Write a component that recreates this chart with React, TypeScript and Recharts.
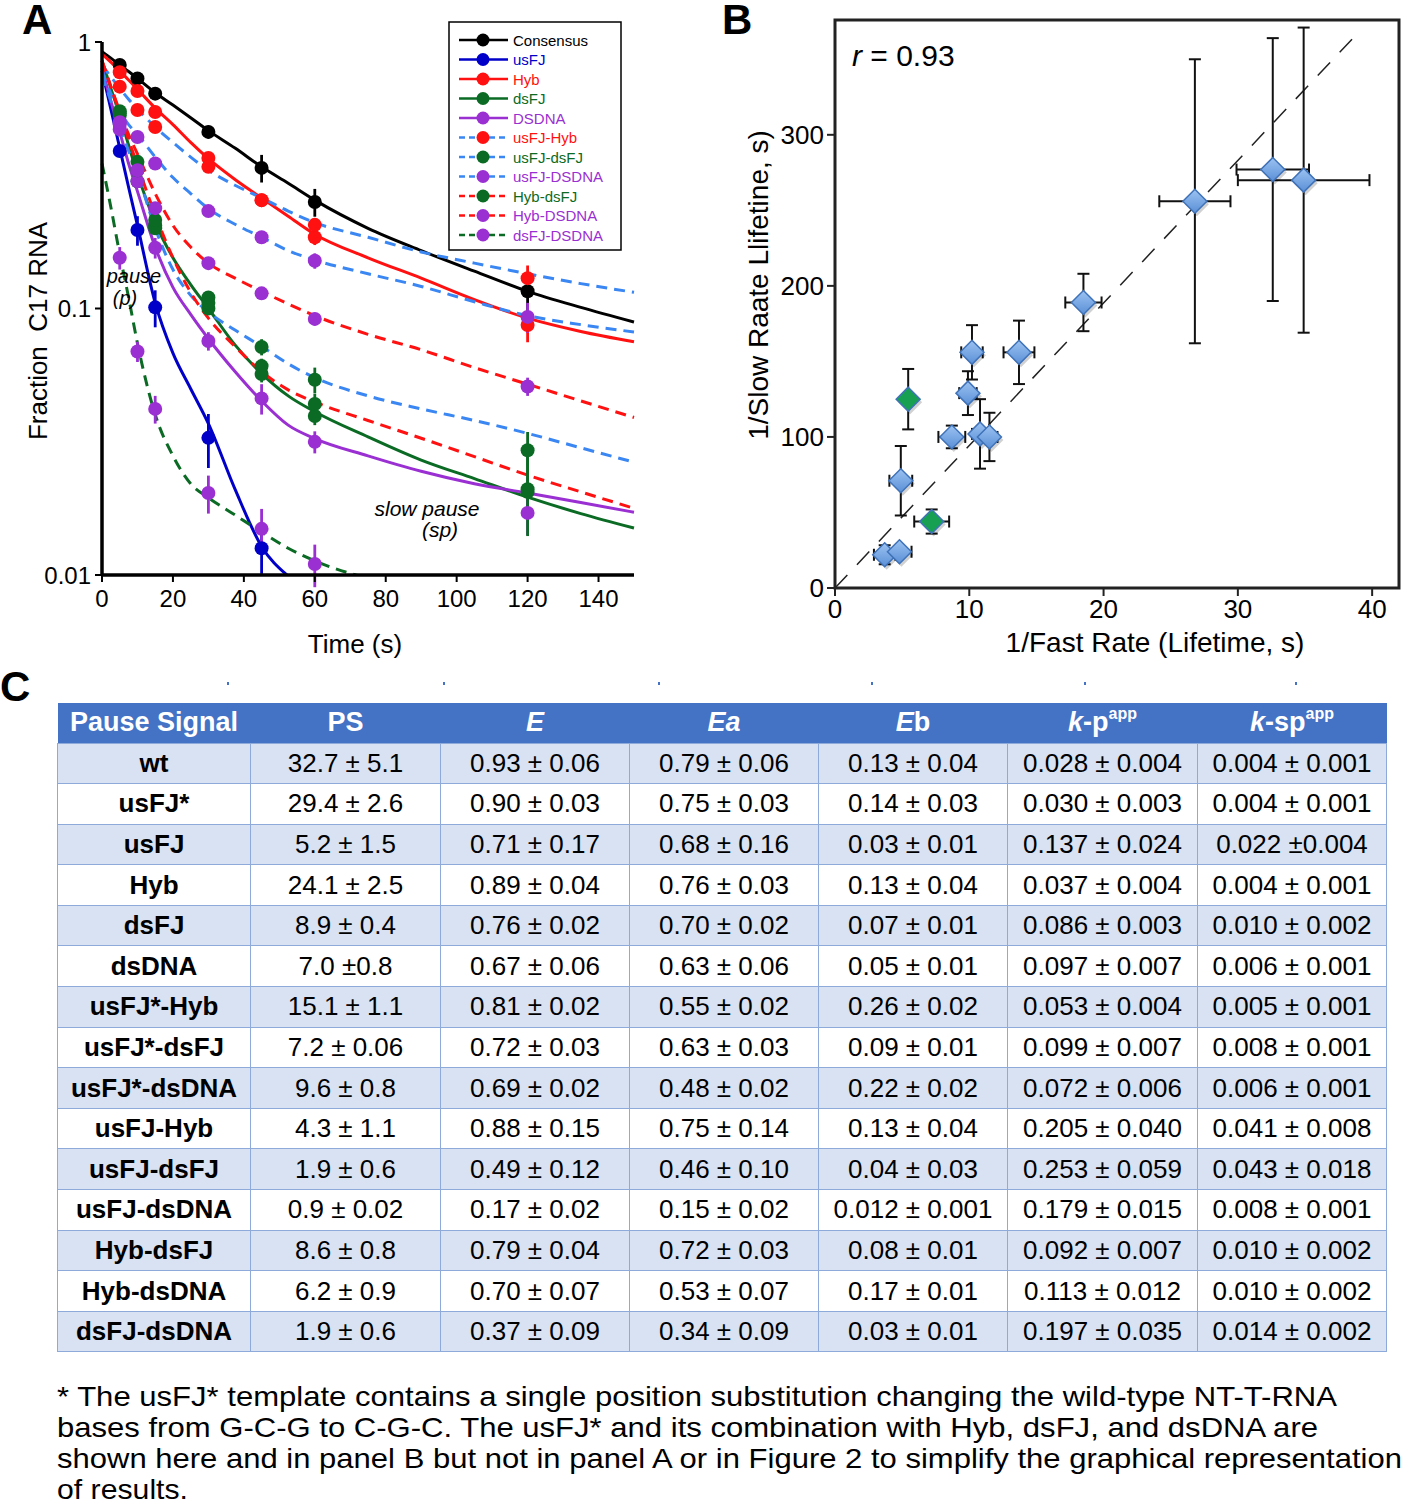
import React from 'react';
import {
  ComposedChart,
  ScatterChart,
  Line,
  Scatter,
  XAxis,
  YAxis,
  ErrorBar,
  ReferenceLine,
  ReferenceArea,
} from 'recharts';

const FONT = '"Liberation Sans", Arial, Helvetica, sans-serif';

// ---------- Panel A: decay of paused RNA (log scale) ----------
const TIME_TICKS = [0, 20, 40, 60, 80, 100, 120, 140];
const FRACTION_TICKS = [0.01, 0.1, 1];

// sampling times of the measured points
const DOT_T = [5, 10, 15, 30, 45, 60, 120];

const consensusDots = [0.82, 0.73, 0.64, 0.46, 0.337, 0.251, 0.116];
const consensusErr = [0.01, 0.01, 0.01, 0.025, 0.04, 0.03, 0.02];
const usfjDots = [0.39, 0.197, 0.101, 0.0327, 0.0126, null, null];
const usfjErr = [0.02, 0.025, 0.016, 0.0075, 0.0025, 0, 0];
const hybDots = [0.77, 0.655, 0.546, 0.367, 0.255, 0.185, 0.0867];
const hybErr = [0.01, 0.01, 0.01, 0.01, 0.01, 0.012, 0.012];
const dsfjDots = [0.53, 0.3, 0.2, 0.1, 0.0568, 0.0395, 0.0205];
const dsfjErr = [0.01, 0.01, 0.01, 0.005, 0.004, 0.003, 0.004];
const dsdnaDots = [0.47, 0.3, 0.169, 0.0755, 0.046, 0.0316, 0.0171];
const dsdnaErr = [0.01, 0.01, 0.015, 0.006, 0.006, 0.003, 0.003];
const usfjHybDots = [0.68, 0.556, 0.48, 0.34, 0.255, 0.206, 0.13];
const usfjHybErr = [0.01, 0.01, 0.01, 0.01, 0.01, 0.01, 0.015];
const usfjDsfjDots = [0.55, 0.355, 0.205, 0.11, 0.0717, 0.054, 0.0294];
const usfjDsfjErr = [0.01, 0.01, 0.01, 0.006, 0.005, 0.006, 0.005];
const usfjDsdnaDots = [0.49, 0.44, 0.35, 0.232, 0.185, 0.151, 0.093];
const usfjDsdnaErr = [0.01, 0.01, 0.01, 0.01, 0.01, 0.01, 0.012];
const hybDsfjDots = [0.54, 0.33, 0.215, 0.105, 0.0608, 0.0438, 0.021];
const hybDsfjErr = [0.01, 0.01, 0.01, 0.005, 0.004, 0.004, 0.007];
const hybDsdnaDots = [0.5, 0.33, 0.238, 0.148, 0.114, 0.0914, 0.051];
const hybDsdnaErr = [0.01, 0.01, 0.01, 0.008, 0.006, 0.005, 0.004];
const dsfjDsdnaDots = [0.155, 0.069, 0.042, 0.0203, 0.0149, 0.011, null];
const dsfjDsdnaErr = [0.015, 0.006, 0.005, 0.0033, 0.0028, 0.002, 0];

// fitted curves
const FIT_T = [0, 2.5, 5, 7.5, 10, 15, 20, 25, 30, 37.5, 45, 52.5, 60, 75, 90, 105, 120, 135, 150];
const consensusFit = [0.92, 0.87, 0.82, 0.775, 0.73, 0.645, 0.58, 0.52, 0.465, 0.4, 0.34, 0.295, 0.255, 0.2, 0.165, 0.138, 0.116, 0.101, 0.089];
const usfjFit = [0.78, 0.56, 0.4, 0.285, 0.205, 0.105, 0.068, 0.05, 0.037, 0.021, 0.0128, 0.0099, 0.0085, null, null, null, null, null, null];
const hybFit = [0.9, 0.84, 0.78, 0.72, 0.665, 0.565, 0.49, 0.42, 0.365, 0.305, 0.26, 0.222, 0.19, 0.155, 0.13, 0.108, 0.092, 0.082, 0.075];
const dsfjFit = [0.85, 0.67, 0.53, 0.41, 0.32, 0.21, 0.155, 0.123, 0.1, 0.073, 0.057, 0.047, 0.041, 0.033, 0.027, 0.023, 0.0196, 0.017, 0.015];
const dsdnaFit = [0.8, 0.6, 0.46, 0.35, 0.275, 0.17, 0.12, 0.095, 0.077, 0.058, 0.045, 0.0365, 0.0325, 0.028, 0.0245, 0.022, 0.0203, 0.0187, 0.0172];
const usfjHybFit = [0.82, 0.74, 0.67, 0.61, 0.56, 0.48, 0.42, 0.37, 0.33, 0.29, 0.26, 0.232, 0.21, 0.185, 0.163, 0.148, 0.135, 0.124, 0.115];
const usfjDsfjFit = [0.75, 0.6, 0.48, 0.39, 0.32, 0.2, 0.14, 0.112, 0.097, 0.083, 0.072, 0.062, 0.055, 0.047, 0.042, 0.038, 0.034, 0.03, 0.0265];
const usfjDsdnaFit = [0.78, 0.64, 0.55, 0.49, 0.45, 0.37, 0.31, 0.27, 0.237, 0.207, 0.185, 0.165, 0.152, 0.135, 0.121, 0.106, 0.094, 0.087, 0.0816];
const hybDsfjFit = [0.85, 0.68, 0.54, 0.43, 0.345, 0.225, 0.155, 0.115, 0.092, 0.072, 0.058, 0.0495, 0.0446, 0.038, 0.0326, 0.0278, 0.0237, 0.0205, 0.0178];
const hybDsdnaFit = [0.85, 0.68, 0.55, 0.45, 0.38, 0.27, 0.205, 0.17, 0.148, 0.13, 0.116, 0.104, 0.094, 0.08, 0.07, 0.06, 0.052, 0.045, 0.039];
const dsfjDsdnaFit = [0.35, 0.24, 0.16, 0.11, 0.074, 0.04, 0.028, 0.022, 0.0195, 0.0168, 0.0145, 0.0126, 0.0113, 0.0097, 0.0087, null, null, null, null];

const BLACK = '#000000';
const BLUE = '#0000c8';
const RED = '#ff1111';
const GREEN = '#0b6b24';
const PURPLE = '#9a2fd2';
const DASH_BLUE = '#3a86f2';

type Series = {
  name: string;
  line: string;
  dashed: boolean;
  dot: string;
  fit: (number | null)[];
  dots: (number | null)[];
  err: number[];
};

const SERIES: Series[] = [
  { name: 'Consensus', line: BLACK, dashed: false, dot: BLACK, fit: consensusFit, dots: consensusDots, err: consensusErr },
  { name: 'usFJ', line: BLUE, dashed: false, dot: BLUE, fit: usfjFit, dots: usfjDots, err: usfjErr },
  { name: 'Hyb', line: RED, dashed: false, dot: RED, fit: hybFit, dots: hybDots, err: hybErr },
  { name: 'dsFJ', line: GREEN, dashed: false, dot: GREEN, fit: dsfjFit, dots: dsfjDots, err: dsfjErr },
  { name: 'DSDNA', line: PURPLE, dashed: false, dot: PURPLE, fit: dsdnaFit, dots: dsdnaDots, err: dsdnaErr },
  { name: 'usFJ-Hyb', line: DASH_BLUE, dashed: true, dot: RED, fit: usfjHybFit, dots: usfjHybDots, err: usfjHybErr },
  { name: 'usFJ-dsFJ', line: DASH_BLUE, dashed: true, dot: GREEN, fit: usfjDsfjFit, dots: usfjDsfjDots, err: usfjDsfjErr },
  { name: 'usFJ-DSDNA', line: DASH_BLUE, dashed: true, dot: PURPLE, fit: usfjDsdnaFit, dots: usfjDsdnaDots, err: usfjDsdnaErr },
  { name: 'Hyb-dsFJ', line: RED, dashed: true, dot: GREEN, fit: hybDsfjFit, dots: hybDsfjDots, err: hybDsfjErr },
  { name: 'Hyb-DSDNA', line: RED, dashed: true, dot: PURPLE, fit: hybDsdnaFit, dots: hybDsdnaDots, err: hybDsdnaErr },
  { name: 'dsFJ-DSDNA', line: GREEN, dashed: true, dot: PURPLE, fit: dsfjDsdnaFit, dots: dsfjDsdnaDots, err: dsfjDsdnaErr },
];

// ---------- Panel B: fast vs slow lifetimes ----------
const fastLifetime = [3.7, 4.8, 4.9, 5.45, 7.2, 8.7, 10.2, 9.9, 10.8, 11.5, 13.7, 18.5, 26.8, 32.6, 34.9];
const slowLifetime = [22, 24, 71, 125, 44, 100, 156, 129, 102, 100, 156, 189, 256, 277, 270];
const fastErr = [0.8, 0.9, 0.85, 0.4, 1.3, 1.0, 0.8, 0.65, 0.6, 0.6, 1.15, 1.35, 2.65, 2.7, 4.9];
const slowErr = [6.3, 2, 23, 20, 8, 7.5, 18, 14.5, 23, 16, 21, 19, 94, 87, 101];
const greenMarker = [false, false, false, true, true, false, false, false, false, false, false, false, false, false, false];

// ---------- Panel C: table ----------
const PAUSE_SIGNALS = ['wt', 'usFJ*', 'usFJ', 'Hyb', 'dsFJ', 'dsDNA', 'usFJ*-Hyb', 'usFJ*-dsFJ', 'usFJ*-dsDNA', 'usFJ-Hyb', 'usFJ-dsFJ', 'usFJ-dsDNA', 'Hyb-dsFJ', 'Hyb-dsDNA', 'dsFJ-dsDNA'];
const PS_COL = ['32.7 ± 5.1', '29.4 ± 2.6', '5.2 ± 1.5', '24.1 ± 2.5', '8.9 ± 0.4', '7.0 ±0.8', '15.1 ± 1.1', '7.2 ± 0.06', '9.6 ± 0.8', '4.3 ± 1.1', '1.9 ± 0.6', '0.9 ± 0.02', '8.6 ± 0.8', '6.2 ± 0.9', '1.9 ± 0.6'];
const E_COL = ['0.93 ± 0.06', '0.90 ± 0.03', '0.71 ± 0.17', '0.89 ± 0.04', '0.76 ± 0.02', '0.67 ± 0.06', '0.81 ± 0.02', '0.72 ± 0.03', '0.69 ± 0.02', '0.88 ± 0.15', '0.49 ± 0.12', '0.17 ± 0.02', '0.79 ± 0.04', '0.70 ± 0.07', '0.37 ± 0.09'];
const EA_COL = ['0.79 ± 0.06', '0.75 ± 0.03', '0.68 ± 0.16', '0.76 ± 0.03', '0.70 ± 0.02', '0.63 ± 0.06', '0.55 ± 0.02', '0.63 ± 0.03', '0.48 ± 0.02', '0.75 ± 0.14', '0.46 ± 0.10', '0.15 ± 0.02', '0.72 ± 0.03', '0.53 ± 0.07', '0.34 ± 0.09'];
const EB_COL = ['0.13 ± 0.04', '0.14 ± 0.03', '0.03 ± 0.01', '0.13 ± 0.04', '0.07 ± 0.01', '0.05 ± 0.01', '0.26 ± 0.02', '0.09 ± 0.01', '0.22 ± 0.02', '0.13 ± 0.04', '0.04 ± 0.03', '0.012 ± 0.001', '0.08 ± 0.01', '0.17 ± 0.01', '0.03 ± 0.01'];
const KP_COL = ['0.028 ± 0.004', '0.030 ± 0.003', '0.137 ± 0.024', '0.037 ± 0.004', '0.086 ± 0.003', '0.097 ± 0.007', '0.053 ± 0.004', '0.099 ± 0.007', '0.072 ± 0.006', '0.205 ± 0.040', '0.253 ± 0.059', '0.179 ± 0.015', '0.092 ± 0.007', '0.113 ± 0.012', '0.197 ± 0.035'];
const KSP_COL = ['0.004 ± 0.001', '0.004 ± 0.001', '0.022 ±0.004', '0.004 ± 0.001', '0.010 ± 0.002', '0.006 ± 0.001', '0.005 ± 0.001', '0.008 ± 0.001', '0.006 ± 0.001', '0.041 ± 0.008', '0.043 ± 0.018', '0.008 ± 0.001', '0.010 ± 0.002', '0.010 ± 0.002', '0.014 ± 0.002'];

const FOOTNOTE = [
  '* The usFJ* template contains a single position substitution changing the wild-type NT-T-RNA',
  'bases from G-C-G to C-G-C. The usFJ* and its combination with Hyb, dsFJ, and dsDNA are',
  'shown here and in panel B but not in panel A or in Figure 2 to simplify the graphical representation',
  'of results.',
];

function PanelA() {
  return (
    <ComposedChart width={640} height={660} margin={{ top: 42, right: 6, bottom: 55, left: 42 }}>
      <XAxis
        type="number"
        dataKey="t"
        domain={[0, 150]}
        ticks={TIME_TICKS}
        axisLine={{ stroke: '#000', strokeWidth: 3.5 }}
        tickLine={{ stroke: '#000', strokeWidth: 2 }}
        tickSize={7}
        tickMargin={8}
        tick={{ fontSize: 24, fill: '#000' }}
        height={30}
      />
      <YAxis
        type="number"
        dataKey="v"
        scale="log"
        domain={[0.01, 1]}
        ticks={FRACTION_TICKS}
        allowDataOverflow
        axisLine={{ stroke: '#000', strokeWidth: 3.5 }}
        tickLine={{ stroke: '#000', strokeWidth: 2 }}
        tickSize={7}
        tickMargin={4}
        tick={{ fontSize: 24, fill: '#000' }}
        width={60}
      />
      {SERIES.map((s) => (
        <Line
          key={'fit-' + s.name}
          data={FIT_T.map((t, i) => ({ t, v: s.fit[i] }))}
          dataKey="v"
          type="monotone"
          stroke={s.line}
          strokeWidth={3}
          strokeDasharray={s.dashed ? '11 7' : undefined}
          dot={false}
          activeDot={false}
          isAnimationActive={false}
        />
      ))}
      {SERIES.map((s) => (
        <Scatter
          key={'pts-' + s.name}
          data={DOT_T.map((t, i) => ({ t, v: s.dots[i], e: s.err[i] })).filter((d) => d.v != null)}
          fill={s.dot}
          shape={(p: any) => <circle cx={p.cx} cy={p.cy} r={7} fill={s.dot} />}
          isAnimationActive={false}
        >
          <ErrorBar dataKey="e" direction="y" width={0} stroke={s.dot} strokeWidth={2.8} />
        </Scatter>
      ))}
    </ComposedChart>
  );
}

function Diamond(props: any) {
  const { cx, cy, payload } = props;
  const s = 12;
  const pts = (dx: number, dy: number) =>
    `${cx + dx},${cy - s + dy} ${cx + s + dx},${cy + dy} ${cx + dx},${cy + s + dy} ${cx - s + dx},${cy + dy}`;
  return (
    <g>
      <defs>
        <linearGradient id="diaBlue" x1="0" y1="0" x2="0" y2="1">
          <stop offset="0%" stopColor="#9cc3f2" />
          <stop offset="100%" stopColor="#5a8fd6" />
        </linearGradient>
      </defs>
      <polygon points={pts(2, 3)} fill="rgba(0,0,0,0.18)" />
      <polygon
        points={pts(0, 0)}
        fill={payload.green ? '#17a052' : 'url(#diaBlue)'}
        stroke="#3f72b8"
        strokeWidth={1.5}
      />
    </g>
  );
}

function PanelB() {
  const data = fastLifetime.map((x, i) => ({
    x,
    y: slowLifetime[i],
    ex: fastErr[i],
    ey: slowErr[i],
    green: greenMarker[i],
  }));
  return (
    <ScatterChart width={682} height={660} margin={{ top: 20, right: 3, bottom: 32, left: 45 }}>
      <XAxis
        type="number"
        dataKey="x"
        domain={[0, 42]}
        ticks={[0, 10, 20, 30, 40]}
        axisLine={false}
        tickLine={{ stroke: '#222', strokeWidth: 2 }}
        tickSize={8}
        tickMargin={4}
        tick={{ fontSize: 26, fill: '#000' }}
        height={40}
      />
      <YAxis
        type="number"
        dataKey="y"
        domain={[0, 376]}
        ticks={[0, 100, 200, 300]}
        axisLine={false}
        tickLine={{ stroke: '#222', strokeWidth: 2 }}
        tickSize={8}
        tickMargin={3}
        tick={{ fontSize: 26, fill: '#000' }}
        width={70}
      />
      <ReferenceArea x1={0} x2={42} y1={0} y2={376} fill="none" stroke="#222" strokeWidth={3} />
      <ReferenceLine
        segment={[{ x: 0, y: 0 }, { x: 39, y: 368 }]}
        stroke="#222"
        strokeWidth={1.5}
        strokeDasharray="18 14"
      />
      <Scatter data={data} shape={Diamond} isAnimationActive={false}>
        <ErrorBar dataKey="ex" direction="x" width={6} stroke="#111" strokeWidth={2} />
        <ErrorBar dataKey="ey" direction="y" width={6} stroke="#111" strokeWidth={2} />
      </Scatter>
    </ScatterChart>
  );
}

const COL_W = [193, 190, 189, 189, 189, 190, 189];

function PauseTable() {
  const th: React.CSSProperties = {
    color: '#fff',
    fontWeight: 'bold',
    fontSize: 27,
    padding: 0,
    textAlign: 'center',
    border: 'none',
  };
  const td: React.CSSProperties = {
    border: '1px solid #8eaadb',
    fontSize: 26,
    padding: 0,
    textAlign: 'center',
    whiteSpace: 'nowrap',
    color: '#000',
  };
  const sup: React.CSSProperties = { fontSize: 16, verticalAlign: 'top', position: 'relative', top: -2 };
  return (
    <table
      style={{
        position: 'absolute',
        left: 57,
        top: 703,
        width: 1329,
        borderCollapse: 'collapse',
        tableLayout: 'fixed',
        fontFamily: FONT,
      }}
    >
      <colgroup>
        {COL_W.map((w, i) => (
          <col key={i} style={{ width: w }} />
        ))}
      </colgroup>
      <thead>
        <tr style={{ height: 40, background: '#4472c4' }}>
          <th style={th}>Pause Signal</th>
          <th style={th}>PS</th>
          <th style={th}><i>E</i></th>
          <th style={th}><i>Ea</i></th>
          <th style={th}><i>E</i>b</th>
          <th style={th}><i>k</i>-p<span style={sup}>app</span></th>
          <th style={th}><i>k</i>-sp<span style={sup}>app</span></th>
        </tr>
      </thead>
      <tbody>
        {PAUSE_SIGNALS.map((name, i) => (
          <tr key={name} style={{ height: 40.6, background: i % 2 === 0 ? '#d9e2f3' : '#ffffff' }}>
            <td style={{ ...td, fontWeight: 'bold' }}>{name}</td>
            <td style={td}>{PS_COL[i]}</td>
            <td style={td}>{E_COL[i]}</td>
            <td style={td}>{EA_COL[i]}</td>
            <td style={td}>{EB_COL[i]}</td>
            <td style={td}>{KP_COL[i]}</td>
            <td style={td}>{KSP_COL[i]}</td>
          </tr>
        ))}
      </tbody>
    </table>
  );
}

function Overlay() {
  const legendTop = 40;
  const legendStep = 19.5;
  return (
    <svg
      width={1402}
      height={1500}
      style={{ position: 'absolute', left: 0, top: 0, pointerEvents: 'none' }}
      fontFamily={FONT}
    >
      {/* panel letters */}
      <text x={22} y={34} fontSize={42} fontWeight="bold">A</text>
      <text x={722} y={34} fontSize={42} fontWeight="bold">B</text>
      <text x={0} y={701} fontSize={42} fontWeight="bold">C</text>

      {/* panel A titles and notes */}
      <text transform="translate(47,331) rotate(-90)" textAnchor="middle" fontSize={26} style={{ whiteSpace: 'pre' }}>
        Fraction  C17 RNA
      </text>
      <text x={355} y={653} textAnchor="middle" fontSize={26}>Time (s)</text>
      <text x={134} y={283} textAnchor="middle" fontSize={20} fontStyle="italic">pause</text>
      <text x={125} y={305} textAnchor="middle" fontSize={20} fontStyle="italic">(p)</text>
      <text x={427} y={516} textAnchor="middle" fontSize={21} fontStyle="italic">slow pause</text>
      <text x={440} y={537} textAnchor="middle" fontSize={21} fontStyle="italic">(sp)</text>

      {/* panel A legend */}
      <rect x={449} y={22} width={172} height={228} fill="#fff" stroke="#000" strokeWidth={1.5} />
      {SERIES.map((s, i) => {
        const y = legendTop + i * legendStep;
        return (
          <g key={s.name}>
            <line
              x1={459}
              x2={508}
              y1={y}
              y2={y}
              stroke={s.line}
              strokeWidth={2.5}
              strokeDasharray={s.dashed ? '6 4' : undefined}
            />
            <circle cx={483} cy={y} r={6.5} fill={s.dot} />
            <text x={513} y={y + 5.5} fontSize={15} fill={s.dot}>{s.name}</text>
          </g>
        );
      })}

      {/* panel B titles */}
      <text transform="translate(768,285) rotate(-90)" textAnchor="middle" fontSize={28}>
        1/Slow Raate Llifetine, s)
      </text>
      <text x={1155} y={652} textAnchor="middle" fontSize={28}>1/Fast Rate (Lifetime, s)</text>
      <text x={852} y={66} fontSize={30}>
        <tspan fontStyle="italic">r</tspan> = 0.93
      </text>

      {/* stray marks above the table */}
      {[228, 444, 659, 872, 1085, 1296].map((x) => (
        <rect key={x} x={x - 1} y={682} width={2} height={3} fill="#4472c4" />
      ))}

      {/* footnote */}
      {FOOTNOTE.map((line, i) => (
        <text
          key={i}
          x={57}
          y={1406 + i * 31}
          fontSize={28}
          textLength={[1280, 1261, 1345, 131][i]}
          lengthAdjust="spacingAndGlyphs"
        >
          {line}
        </text>
      ))}
    </svg>
  );
}

export default function App() {
  return (
    <div
      style={{
        position: 'absolute',
        left: 0,
        top: 0,
        width: 1402,
        height: 1500,
        background: '#fff',
        overflow: 'hidden',
        fontFamily: FONT,
      }}
    >
      <div style={{ position: 'absolute', left: 0, top: 0 }}>
        <PanelA />
      </div>
      <div style={{ position: 'absolute', left: 720, top: 0 }}>
        <PanelB />
      </div>
      <PauseTable />
      <Overlay />
    </div>
  );
}
